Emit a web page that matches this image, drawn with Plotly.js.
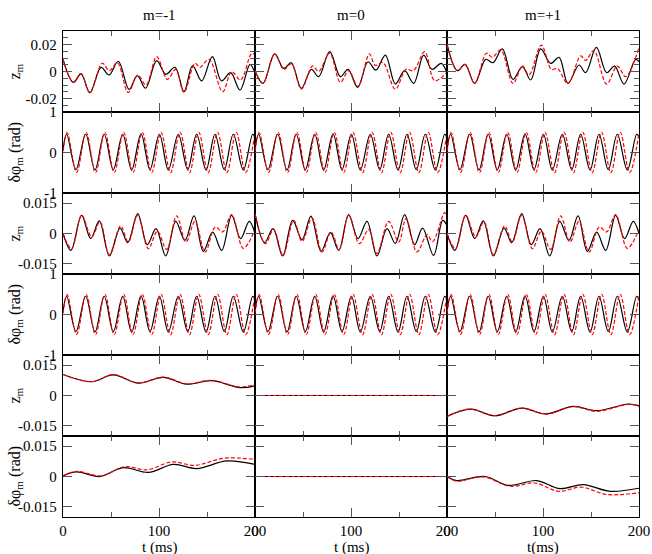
<!DOCTYPE html>
<html>
<head>
<meta charset="utf-8">
<script src="https://cdn.plot.ly/plotly-3.0.1.min.js"></script>
<style>html,body{margin:0;padding:0;background:#fff;}#chart{width:652px;height:554px;}</style>
</head>
<body>
<div id="chart"></div>
<script>
// ---------- column / tick labels ----------
const columnTitles = ['m=-1', 'm=0', 'm=+1'];
const xTitles = ['t (ms)', 't (ms)', 't(ms)'];
const zTitle = 'z<sub>m</sub>';
const phiTitle = 'δφ<sub>m</sub> (rad)';
const xTickVals = [0, 100, 200];
const xTickText = ['0', '100', '200'];
const zTickValsA = [-0.02, 0, 0.02];
const zTickTextA = ['-0.02', '0', '0.02'];
const phiTickVals = [-1, 0, 1];
const phiTickText = ['-1', '0', '1'];
const zTickValsB = [-0.015, 0, 0.015];
const zTickTextB = ['-0.015', '0', '0.015'];

// ---------- row 1 : z (first block) ----------
const r1c1_tk = [0, 10.8, 18.8, 28, 39.6, 47.9, 57.6, 68.8, 77.4, 86, 97.6, 107, 116.7, 126, 135, 144.4, 155.6, 165, 174.6, 184.4, 194.8, 200];
const r1c1_vk = [0.009, -0.008, -0.0018, -0.0157, 0.003, -0.0026, 0.0076, -0.0133, -0.0031, -0.0124, 0.008, -0.0021, 0.0031, -0.0149, 0.0043, -0.007, 0.011, -0.007, -0.0009, -0.0137, 0.0053, -0.0014];
const r1c1_tr = [0, 10.8, 18.8, 28, 41, 48.3, 56.6, 68, 77.8, 86.5, 97.6, 108.7, 117.4, 126, 137.5, 142.7, 152.1, 166.3, 175.7, 185, 196.5, 200];
const r1c1_vr = [0.009, -0.008, -0.0015, -0.0157, 0.0061, 0.0006, 0.0065, -0.0155, -0.0026, -0.010, 0.011, -0.0058, 0.0016, -0.0155, 0.0061, 0.0031, 0.009, -0.015, -0.0001, -0.0063, 0.0134, 0.0125];

const r1c2_tk = [0, 8.3, 20.5, 29.9, 37.8, 48.3, 58.7, 66.3, 77.8, 88.9, 96.9, 107, 117.7, 126, 135.8, 146.2, 155.9, 165.3, 175.7, 184.4, 194, 200];
const r1c2_vk = [0.0006, -0.0088, 0.013, 0.0023, 0.0065, -0.0125, 0.0016, -0.0038, 0.0147, -0.0038, 0.0016, -0.0118, 0.0072, 0.001, 0.0121, -0.0093, 0.0006, -0.0088, 0.0121, 0.0016, 0.006, -0.0014];
const r1c2_tr = [0, 8.3, 20.5, 29.9, 37.8, 48.3, 60, 66.3, 77.8, 88.9, 97.6, 107.3, 119.1, 125.3, 133.3, 146.2, 157.3, 165, 176.7, 187.2, 200];
const r1c2_vr = [0.0006, -0.0088, 0.013, 0.0016, 0.0056, -0.013, 0.0041, 0.0, 0.0135, -0.008, 0.0006, -0.011, 0.013, 0.0045, 0.0066, -0.0132, 0.0016, 0.0006, 0.0147, -0.0068, -0.0005];

const r1c3_tk = [0, 10.8, 18.8, 28.8, 40.3, 47.9, 57.6, 68.8, 78.5, 87.2, 97.6, 108, 116.7, 126, 137.5, 144.4, 155.6, 166.3, 174.6, 184.4, 196.5, 200];
const r1c3_vk = [0.0204, 0.0006, 0.0053, -0.0088, 0.009, 0.0065, 0.0167, -0.0058, 0.0036, -0.0063, 0.0167, 0.006, 0.0105, -0.0088, 0.0048, -0.0009, 0.0179, -0.0009, 0.004, -0.0093, 0.009, 0.0073];
const r1c3_tr = [0, 10.8, 18.8, 28.8, 41, 47.2, 55.9, 68.8, 78.5, 85.4, 98.3, 108.7, 115, 126, 139.2, 144.4, 153, 166.3, 177.4, 186.1, 200];
const r1c3_vr = [0.0195, 0.0006, 0.0053, -0.0088, 0.0135, 0.0105, 0.016, -0.0088, 0.0041, -0.0026, 0.0196, 0.0016, 0.0022, -0.0088, 0.0116, 0.0082, 0.0155, -0.0093, 0.004, -0.0038, 0.0179];

// ---------- rows 2 and 4 : delta phi ----------
const phi_tk = [0, 3.8, 13.5, 23.6, 33.3, 42.9, 52.4, 62.2, 71.5, 81.3, 90.6, 100.4, 109.7, 120.1, 129.9, 139.2, 149, 158.3, 168, 177.4, 187.8, 197.6, 200];
const phi_vk = [0.05, 0.45, -0.42, 0.45, -0.43, 0.45, -0.42, 0.45, -0.43, 0.46, -0.42, 0.45, -0.43, 0.45, -0.42, 0.45, -0.43, 0.45, -0.42, 0.45, -0.43, 0.45, 0.38];
const phi_tr = [0, 4.3, 14.2, 24.1, 33.9, 43.6, 53.4, 63.2, 72.9, 82.6, 92.4, 102.1, 112, 121.9, 131.7, 141.4, 151.2, 161, 170.7, 180.4, 190.2, 200];
const phi_vr = [0.03, 0.49, -0.49, 0.5, -0.5, 0.5, -0.5, 0.5, -0.5, 0.5, -0.5, 0.5, -0.5, 0.5, -0.5, 0.5, -0.5, 0.5, -0.5, 0.5, -0.5, 0.48];

// ---------- row 3 : z (second block) ----------
const r3c1_tk = [0, 8.3, 19.4, 28.8, 37.8, 48.3, 59.4, 67.4, 77.8, 87.8, 96.9, 107, 117.4, 127, 136.5, 146.2, 155.9, 165.3, 175.7, 185, 194, 200];
const r3c1_vk = [0, -0.0083, 0.009, -0.0025, 0.0062, -0.0111, 0.0027, -0.0045, 0.0098, -0.0055, 0.0024, -0.0111, 0.006, -0.0034, 0.0087, -0.0088, 0.0007, -0.0083, 0.009, -0.0025, 0.006, 0];
const r3c1_tr = [0, 9, 19.4, 29.9, 38.5, 48.3, 60, 68, 77.8, 88.9, 98.3, 108, 118.4, 128.1, 137.5, 148, 158.7, 166.3, 175.7, 187.8, 200];
const r3c1_vr = [0, -0.0075, 0.009, -0.0017, 0.0057, -0.0104, 0.0037, -0.0042, 0.009, -0.0075, 0.0011, -0.0078, 0.0087, -0.0042, 0.006, -0.0091, 0.0032, 0.0008, 0.0093, -0.0073, 0.002];

const r3c2_tk = [0, 10, 18.8, 28.8, 39.2, 49, 58.3, 68.8, 78.5, 87.2, 97.6, 107.3, 116.7, 127, 137.5, 146.2, 155.9, 166.3, 174.6, 186, 195.5, 200];
const r3c2_vk = [0.0098, -0.0045, 0.0024, -0.0111, 0.0065, -0.003, 0.0086, -0.0088, 0.0004, -0.0083, 0.0093, -0.0025, 0.006, -0.0111, 0.0024, -0.0049, 0.0093, -0.0055, 0.0027, -0.0108, 0.0065, 0.004];
const r3c2_tr = [0, 10.8, 19.4, 29.2, 40.3, 49, 59.4, 69.8, 79.2, 87.8, 97.6, 108.7, 118.4, 127, 139.2, 149.7, 157.3, 168.7, 179.2, 185, 197.6, 200];
const r3c2_vr = [0.0098, -0.005, 0.002, -0.0108, 0.0065, -0.0039, 0.0077, -0.0091, 0.0007, -0.0078, 0.009, -0.005, 0.002, -0.0099, 0.006, -0.0042, 0.0073, -0.0091, -0.0006, -0.004, 0.0103, 0.008];

const r3c3_tk = r3c1_tk, r3c3_vk = r3c1_vk, r3c3_tr = r3c1_tr, r3c3_vr = r3c1_vr;

// ---------- row 5 : z (third block) ----------
const r5c1_tk = [0, 29.9, 52.4, 78.5, 104.5, 128.8, 154.9, 184.4, 200];
const r5c1_vk = [0.0104, 0.0068, 0.0102, 0.0061, 0.009, 0.0056, 0.0073, 0.0039, 0.0048];
const r5c1_tr = [0, 29.9, 52.4, 78.5, 104.5, 128.8, 154.9, 184.4, 200];
const r5c1_vr = [0.0104, 0.0068, 0.0103, 0.0062, 0.0091, 0.0058, 0.0075, 0.0042, 0.0055];
const r5c2_t = [0, 200];
const r5c2_v = [0, 0];
const r5c3_tk = [0, 24, 50, 77.8, 103, 131.6, 156, 189, 200];
const r5c3_vk = [-0.0103, -0.0067, -0.01, -0.0062, -0.0091, -0.0054, -0.0075, -0.0042, -0.005];
const r5c3_tr = [0, 24, 50, 77.8, 103, 131.6, 156, 189, 200];
const r5c3_vr = [-0.0103, -0.0067, -0.01, -0.0062, -0.0092, -0.0055, -0.0078, -0.0044, -0.0053];

// ---------- row 6 : delta phi (third block) ----------
const r6c1_tk = [0, 14.2, 38.5, 62.8, 88.9, 115, 139.2, 170.5, 200];
const r6c1_vk = [0.0003, 0.0023, 0, 0.0044, 0.002, 0.006, 0.0039, 0.0077, 0.006];
const r6c1_tr = [0, 14.2, 40.3, 64.6, 87.2, 113.2, 137.5, 167.4, 200];
const r6c1_vr = [0.0003, 0.0025, 0.0003, 0.0049, 0.0033, 0.0072, 0.0055, 0.009, 0.0085];
const r6c2_t = [0, 200];
const r6c2_v = [0, 0];
const r6c3_tk = [0, 10, 39.6, 64, 93.4, 117.7, 142, 169.8, 200];
const r6c3_vk = [0, -0.002, 0, -0.0044, -0.002, -0.006, -0.004, -0.0073, -0.0058];
const r6c3_tr = [0, 10, 38, 65.6, 91.7, 116, 140.3, 166.3, 200];
const r6c3_vr = [0, -0.0023, -0.0002, -0.0048, -0.0032, -0.0073, -0.0053, -0.0089, -0.008];

// ---------- assemble ----------
const panelData = [
  [[r1c1_tk, r1c1_vk, r1c1_tr, r1c1_vr], [r1c2_tk, r1c2_vk, r1c2_tr, r1c2_vr], [r1c3_tk, r1c3_vk, r1c3_tr, r1c3_vr]],
  [[phi_tk, phi_vk, phi_tr, phi_vr], [phi_tk, phi_vk, phi_tr, phi_vr], [phi_tk, phi_vk, phi_tr, phi_vr]],
  [[r3c1_tk, r3c1_vk, r3c1_tr, r3c1_vr], [r3c2_tk, r3c2_vk, r3c2_tr, r3c2_vr], [r3c3_tk, r3c3_vk, r3c3_tr, r3c3_vr]],
  [[phi_tk, phi_vk, phi_tr, phi_vr], [phi_tk, phi_vk, phi_tr, phi_vr], [phi_tk, phi_vk, phi_tr, phi_vr]],
  [[r5c1_tk, r5c1_vk, r5c1_tr, r5c1_vr], [r5c2_t, r5c2_v, r5c2_t, r5c2_v], [r5c3_tk, r5c3_vk, r5c3_tr, r5c3_vr]],
  [[r6c1_tk, r6c1_vk, r6c1_tr, r6c1_vr], [r6c2_t, r6c2_v, r6c2_t, r6c2_v], [r6c3_tk, r6c3_vk, r6c3_tr, r6c3_vr]]
];

const rowAxes = [
  {range: [-0.03, 0.03], vals: zTickValsA, text: zTickTextA, minor: 0.005, title: zTitle},
  {range: [-1, 1], vals: phiTickVals, text: phiTickText, minor: null, title: phiTitle},
  {range: [-0.02, 0.02], vals: zTickValsB, text: zTickTextB, minor: null, title: zTitle},
  {range: [-1, 1], vals: phiTickVals, text: phiTickText, minor: null, title: phiTitle},
  {range: [-0.02, 0.02], vals: zTickValsB, text: zTickTextB, minor: null, title: zTitle},
  {range: [-0.02, 0.02], vals: zTickValsB, text: zTickTextB, minor: null, title: phiTitle}
];

const FONT = 'Liberation Serif';
const L = 63, R = 13, T = 31, B = 37, W = 652, H = 554;
const PW = W - L - R, PH = H - T - B;

const traces = [];
const layout = {
  width: W, height: H,
  margin: {l: L, r: R, t: T, b: B, pad: 0},
  paper_bgcolor: '#ffffff', plot_bgcolor: '#ffffff',
  showlegend: false,
  font: {family: FONT, size: 14, color: '#000'},
  annotations: []
};

for (let r = 0; r < 6; r++) {
  for (let c = 0; c < 3; c++) {
    const k = r * 3 + c + 1;
    const xa = 'x' + (k === 1 ? '' : k), ya = 'y' + (k === 1 ? '' : k);
    const d = panelData[r][c];
    traces.push({x: d[0], y: d[1], xaxis: xa, yaxis: ya, mode: 'lines', hoverinfo: 'skip',
      line: {color: '#000000', width: 1.2, shape: 'spline', smoothing: 1}});
    traces.push({x: d[2], y: d[3], xaxis: xa, yaxis: ya, mode: 'lines', hoverinfo: 'skip',
      line: {color: '#ff0000', width: 1.2, shape: 'spline', smoothing: 1, dash: '4px,2px'}});
    const common = {showline: true, linecolor: '#000', linewidth: 1.2, mirror: 'ticks',
      ticks: 'inside', ticklen: 9, tickwidth: 1, tickcolor: '#555',
      showgrid: false, zeroline: false, fixedrange: true,
      tickfont: {family: FONT, size: 15, color: '#000'}};
    layout['xaxis' + (k === 1 ? '' : k)] = Object.assign({}, common, {
      domain: [c / 3, (c + 1) / 3], anchor: ya, range: [0, 200],
      tickmode: 'array', tickvals: xTickVals, ticktext: xTickText,
      showticklabels: r === 5,
      minor: {ticks: 'inside', ticklen: 5, tickcolor: '#555', tickwidth: 1, tickmode: 'linear', tick0: 0, dtick: 50, showgrid: false}
    });
    const ry = rowAxes[r];
    const yax = Object.assign({}, common, {
      domain: [1 - (r + 1) / 6, 1 - r / 6], anchor: xa, range: ry.range,
      tickmode: 'array', tickvals: ry.vals, ticktext: ry.text,
      showticklabels: c === 0, ticklabelstandoff: 2
    });
    if (ry.minor) yax.minor = {ticks: 'inside', ticklen: 5, tickcolor: '#555', tickwidth: 1, tickmode: 'linear', tick0: 0, dtick: ry.minor, showgrid: false};
    layout['yaxis' + (k === 1 ? '' : k)] = yax;
  }
}

// column titles and x titles
for (let c = 0; c < 3; c++) {
  layout.annotations.push({text: columnTitles[c], xref: 'paper', yref: 'paper',
    x: (c + 0.5) / 3, y: 1 + (T - 15) / PH, xanchor: 'center', yanchor: 'middle',
    showarrow: false, font: {family: FONT, size: 15, color: '#000'}});
  layout.annotations.push({text: xTitles[c], xref: 'paper', yref: 'paper',
    x: (c + 0.5) / 3, y: -(547 - (T + PH)) / PH, xanchor: 'center', yanchor: 'middle',
    showarrow: false, font: {family: FONT, size: 15, color: '#000'}});
}
// y titles
for (let r = 0; r < 6; r++) {
  layout.annotations.push({text: rowAxes[r].title, xref: 'paper', yref: 'paper',
    x: (15 - L) / PW, y: 1 - (r + 0.5) / 6, xanchor: 'center', yanchor: 'middle',
    textangle: -90, showarrow: false, font: {family: FONT, size: 16, color: '#000'}});
}

Plotly.newPlot('chart', traces, layout, {displayModeBar: false, staticPlot: true});
</script>
</body>
</html>
